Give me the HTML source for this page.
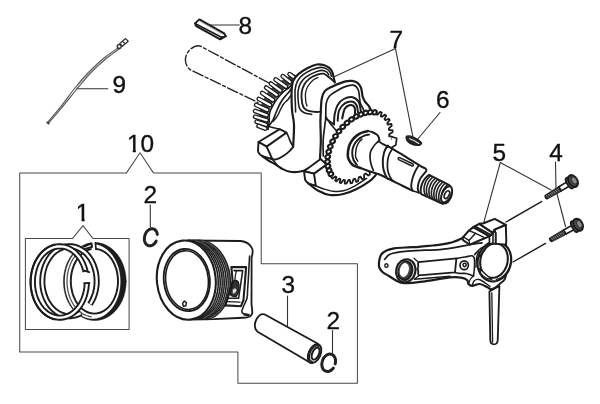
<!DOCTYPE html>
<html><head><meta charset="utf-8"><title>Crankshaft / Piston parts diagram</title>
<style>
html,body{margin:0;padding:0;background:#fff;}
body{width:600px;height:404px;overflow:hidden;}
svg{display:block;}
text{font-family:"Liberation Sans",sans-serif;fill:#111;stroke:#111;stroke-width:0.35px;}
path,ellipse{stroke-linecap:round;stroke-linejoin:round;}
</style></head><body>
<svg style="filter:grayscale(1)" width="600" height="404" viewBox="0 0 600 404">
<rect width="600" height="404" fill="#fff"/>
<text x="238.5" y="34.0" font-size="24.4">8</text>
<text x="389.5" y="47.5" font-size="24.4">7</text>
<text x="435.9" y="108.3" font-size="24.4">6</text>
<text x="492.5" y="161.3" font-size="24.4">5</text>
<text x="549.3" y="161.3" font-size="24.4">4</text>
<text x="112.6" y="93.3" font-size="24.4">9</text>
<text x="127" y="151.9" font-size="24.4">10</text>
<text x="75.8" y="221.3" font-size="24.4">1</text>
<text x="143.5" y="202.7" font-size="24.4">2</text>
<text x="281.5" y="293.2" font-size="24.4">3</text>
<text x="326.5" y="328.5" font-size="24.4">2</text>
<rect x="76.3" y="218.7" width="5.2" height="3.8" fill="#fff"/>
<rect x="84.65" y="218.7" width="5.2" height="3.8" fill="#fff"/>
<rect x="127.5" y="149.3" width="5.2" height="3.8" fill="#fff"/>
<rect x="135.85" y="149.3" width="5.2" height="3.8" fill="#fff"/>
<path d="M210.0,25.0 L239.4,25.0" fill="none" stroke="#333" stroke-width="1.1" />
<path d="M332.5,77.5 L395.5,48.6 L412.8,136.4" fill="none" stroke="#333" stroke-width="1.1" />
<path d="M440.0,112.5 L417.8,139.0" fill="none" stroke="#333" stroke-width="1.1" />
<path d="M483.6,223.2 L500.3,162.5 L551.0,190.0" fill="none" stroke="#333" stroke-width="1.1" />
<path d="M555.5,162.0 L556.0,190.0 L565.5,226.5" fill="none" stroke="#333" stroke-width="1.1" />
<path d="M76.6,88.7 L107.8,88.7" fill="none" stroke="#333" stroke-width="1.1" />
<path d="M150.3,205.0 L150.3,227.0" fill="none" stroke="#333" stroke-width="1.1" />
<path d="M287.5,296.0 L287.5,326.0" fill="none" stroke="#333" stroke-width="1.1" />
<path d="M332.5,330.5 L332.5,352.5" fill="none" stroke="#333" stroke-width="1.1" />
<path d="M126.3,173.1 L19.7,173.1 L19.7,352.1 L237.9,352.1 L237.9,383.3 L357.4,383.3 L357.4,263.8 L261.2,263.8 L261.2,173.1 L153.6,173.1 L140.0,152.7 L126.3,173.1" fill="none" stroke="#484848" stroke-width="1.01" />
<path d="M72.4,238.6 L25.4,238.6 L25.4,329.4 L129.1,329.4 L129.1,238.6 L93.0,238.6 L83.0,225.6 L72.4,238.6" fill="none" stroke="#484848" stroke-width="1.01" />
<path d="M199.4,19.4 L195.0,23.4 L196.2,26.2 L220.2,39.3 L225.8,36.2 L224.2,33.4Z" fill="#fff" stroke="#1c1c1c" stroke-width="1.95" />
<path d="M195.0,23.4 L221.5,37.2 L225.8,36.2" fill="none" stroke="#1c1c1c" stroke-width="1.69" />
<path d="M221.5,37.2 L220.2,39.3" fill="none" stroke="#1c1c1c" stroke-width="1.56" />
<path d="M199.8,21.2 L223.0,34.5" fill="none" stroke="#777" stroke-width="0.6" />
<path d="M118.6,47.6 C116.2,49.3 109.1,53.8 104.0,58.0 C98.9,62.2 92.8,68.0 88.0,73.0 C83.2,78.0 79.3,82.7 75.0,88.0 C70.7,93.3 66.6,99.2 62.0,105.0 C57.4,110.8 49.9,119.6 47.5,122.5" fill="none" stroke="#555" stroke-width="1.17" />
<path d="M119.6,48.8 C117.2,50.6 110.0,55.3 105.0,59.5 C100.0,63.7 94.2,69.0 89.5,74.0 C84.8,79.0 80.9,84.2 76.5,89.5 C72.1,94.8 67.7,100.4 63.0,106.0 C58.3,111.6 50.8,120.4 48.3,123.3" fill="none" stroke="#555" stroke-width="1.17" />
<path d="M112.0,54.0 C109.7,56.0 102.7,61.6 98.0,66.0 C93.3,70.4 87.7,76.5 84.0,80.5 C80.3,84.5 77.3,88.4 76.0,90.0" fill="none" stroke="#777" stroke-width="0.91" />
<path d="M47.2,122.3 L48.6,123.6" fill="none" stroke="#333" stroke-width="1.69" />
<path d="M119.8,43.4 L125.6,38.6 L128.2,41.2 L122.4,46.2Z" fill="#fff" stroke="#333" stroke-width="1.3" />
<ellipse cx="119.2" cy="46.4" rx="1.9" ry="1.9" transform="rotate(0 119.2 46.4)" fill="#fff" stroke="#333" stroke-width="1.43" />
<path d="M123.0,41.8 L124.6,43.4" fill="none" stroke="#333" stroke-width="1.3" />
<path d="M269,83 L201,46.4 C197,44.6 191.5,47 187.6,52.5 C184,58.5 185,65.5 190,69.6 L258,102.5" fill="none" stroke="#222" stroke-width="1.37" stroke-dasharray="11 2.6 3 2.6"/>
<path d="M264.8,314.5 L318,343.8 L310.8,363 L257.6,331.8 C254.2,329 254,323.5 256.6,319 C258.8,315.4 262,313.4 264.8,314.5Z" fill="#fff" stroke="#1c1c1c" stroke-width="1.82" />
<ellipse cx="314.6" cy="353.6" rx="5.9" ry="9.9" transform="rotate(24 314.6 353.6)" fill="#fff" stroke="#1c1c1c" stroke-width="1.95" />
<ellipse cx="315.6" cy="353.6" rx="3.3" ry="6.4" transform="rotate(24 315.6 353.6)" fill="#fff" stroke="#1c1c1c" stroke-width="1.95" />
<path d="M312.2,361.5 L311.8,361.4 L311.5,361.3 L311.2,361.2 L310.9,361.0 L310.7,360.8 L310.4,360.5 L310.2,360.2 L310.0,359.9 L309.8,359.5 L309.7,359.1 L309.6,358.7 L309.5,358.3 L309.4,357.8 L309.4,357.3 L309.4,356.8 L309.4,356.3 L309.5,355.7 L309.5,355.1 L309.7,354.6 L309.8,354.0 L310.0,353.4 L310.1,352.9 L310.4,352.3 L310.6,351.7 L310.9,351.2 L311.1,350.6 L311.4,350.1 L311.8,349.6 L312.1,349.1 L312.4,348.7 L312.8,348.2 L313.2,347.8 L313.5,347.4 L313.9,347.1 L314.3,346.8 L314.7,346.5 L315.1,346.3 L315.5,346.1 L315.9,345.9 L316.3,345.8 L316.6,345.7 L317.0,345.7 L317.4,345.7 L317.7,345.8 L318.0,345.9 L318.3,346.0 L318.6,346.2 L318.9,346.4" fill="none" stroke="#1c1c1c" stroke-width="1.43" />
<path d="M156.2,241.0 C156.0,241.3 155.6,242.2 155.2,242.7 C154.8,243.2 154.4,243.6 154.0,244.0 C153.5,244.4 153.1,244.8 152.6,245.1 C152.1,245.3 151.6,245.5 151.1,245.7 C150.6,245.8 150.1,245.9 149.6,245.8 C149.1,245.8 148.6,245.7 148.2,245.6 C147.7,245.4 147.3,245.2 146.9,244.8 C146.5,244.5 146.2,244.2 145.8,243.7 C145.5,243.3 145.3,242.8 145.0,242.3 C144.8,241.8 144.7,241.2 144.5,240.6 C144.4,240.0 144.4,239.3 144.4,238.7 C144.4,238.1 144.5,237.4 144.6,236.7 C144.7,236.1 144.9,235.4 145.1,234.8 C145.3,234.2 145.6,233.6 145.9,233.0 C146.2,232.5 146.6,231.9 147.0,231.4 C147.4,231.0 147.8,230.5 148.3,230.2 C148.7,229.8 149.2,229.5 149.7,229.3 C150.2,229.1 150.7,228.9 151.2,228.8 C151.7,228.7 152.2,228.7 152.7,228.8 C153.1,228.9 153.6,229.0 154.1,229.2 C154.5,229.4 154.9,229.7 155.3,230.1 C155.6,230.4 156.0,230.8 156.3,231.3 C156.5,231.8 156.8,232.3 157.0,232.8 C157.1,233.4 157.3,234.3 157.3,234.6" fill="none" stroke="#222" stroke-width="2.99" />
<path d="M333.4,368.0 C333.2,368.2 332.6,369.1 332.1,369.5 C331.6,369.9 331.1,370.3 330.6,370.6 C330.1,370.9 329.5,371.2 328.9,371.3 C328.4,371.5 327.8,371.5 327.3,371.5 C326.8,371.5 326.2,371.4 325.8,371.2 C325.3,371.0 324.8,370.7 324.4,370.4 C323.9,370.1 323.6,369.6 323.2,369.2 C322.9,368.7 322.6,368.1 322.4,367.6 C322.2,367.0 322.0,366.3 321.9,365.7 C321.9,365.0 321.8,364.3 321.9,363.7 C321.9,363.0 322.0,362.2 322.2,361.6 C322.4,360.9 322.6,360.2 322.9,359.5 C323.2,358.9 323.5,358.3 323.9,357.7 C324.3,357.1 324.8,356.6 325.2,356.2 C325.7,355.7 326.2,355.3 326.7,355.0 C327.3,354.7 327.8,354.5 328.4,354.3 C328.9,354.2 329.5,354.1 330.0,354.1 C330.5,354.1 331.1,354.2 331.6,354.4 C332.1,354.6 332.5,354.8 333.0,355.1 C333.4,355.5 333.8,355.9 334.1,356.4 C334.5,356.8 334.7,357.4 335.0,357.9 C335.2,358.5 335.4,359.2 335.4,359.8 C335.5,360.5 335.6,361.2 335.5,361.8 C335.5,362.5 335.3,363.6 335.2,363.9" fill="none" stroke="#222" stroke-width="2.99" />
<path d="M406.3,136.4 C409,134.6 418.5,138.6 421.6,142.8 C421.2,146.2 414.5,146 410.2,143.4 C407,141.4 405.6,138.6 406.3,136.4Z" fill="#262626" stroke="#1c1c1c" stroke-width="1.3" />
<path d="M409.6,138.8 C412.5,139.8 416,141.4 418.8,143.4" fill="none" stroke="#e8e8e8" stroke-width="1.17" />
<path d="M545.1,195.7 L545.5,197.6 L546.9,198.8 L561.3,190.9 L558.8,186.8Z" fill="#3a3a3a" stroke="#1c1c1c" stroke-width="1.56" />
<path d="M546.3,195.1 L548.8,197.6" fill="none" stroke="#aaa" stroke-width="0.6" />
<path d="M548.0,194.1 L550.5,196.6" fill="none" stroke="#aaa" stroke-width="0.6" />
<path d="M549.8,193.0 L552.2,195.5" fill="none" stroke="#aaa" stroke-width="0.6" />
<path d="M551.5,192.0 L553.9,194.5" fill="none" stroke="#aaa" stroke-width="0.6" />
<path d="M553.2,191.0 L555.6,193.5" fill="none" stroke="#aaa" stroke-width="0.6" />
<path d="M554.9,189.9 L557.3,192.4" fill="none" stroke="#aaa" stroke-width="0.6" />
<path d="M556.6,188.9 L559.0,191.4" fill="none" stroke="#aaa" stroke-width="0.6" />
<path d="M558.3,187.9 L560.8,190.4" fill="none" stroke="#aaa" stroke-width="0.6" />
<path d="M558.8,186.8 L567.4,181.6 L569.9,185.7 L561.3,190.9Z" fill="#fff" stroke="#1c1c1c" stroke-width="1.69" />
<ellipse cx="569.4712598032839" cy="183.13007590056316" rx="2.3" ry="6.0" transform="rotate(-31.116708062802957 569.4712598032839 183.13007590056316)" fill="#fff" stroke="#1c1c1c" stroke-width="1.95" />
<ellipse cx="572.8957254894674" cy="181.06294388635789" rx="4.4" ry="6.4" transform="rotate(-31.116708062802957 572.8957254894674 181.06294388635789)" fill="#484848" stroke="#1c1c1c" stroke-width="2.08" />
<ellipse cx="574.2832567224965" cy="180.45899266534008" rx="2.3" ry="3.8" transform="rotate(-31.116708062802957 574.2832567224965 180.45899266534008)" fill="#8a8a8a" stroke="#333" stroke-width="1.04" />
<path d="M549.7,238.3 L550.0,240.2 L551.4,241.5 L566.0,234.1 L563.7,229.9Z" fill="#3a3a3a" stroke="#1c1c1c" stroke-width="1.56" />
<path d="M550.9,237.7 L553.3,240.3" fill="none" stroke="#aaa" stroke-width="0.6" />
<path d="M552.7,236.8 L555.0,239.4" fill="none" stroke="#aaa" stroke-width="0.6" />
<path d="M554.4,235.8 L556.8,238.4" fill="none" stroke="#aaa" stroke-width="0.6" />
<path d="M556.2,234.8 L558.5,237.4" fill="none" stroke="#aaa" stroke-width="0.6" />
<path d="M557.9,233.9 L560.3,236.5" fill="none" stroke="#aaa" stroke-width="0.6" />
<path d="M559.7,232.9 L562.0,235.5" fill="none" stroke="#aaa" stroke-width="0.6" />
<path d="M561.4,231.9 L563.8,234.5" fill="none" stroke="#aaa" stroke-width="0.6" />
<path d="M563.2,231.0 L565.5,233.6" fill="none" stroke="#aaa" stroke-width="0.6" />
<path d="M563.7,229.9 L572.5,225.1 L574.8,229.3 L566.0,234.1Z" fill="#fff" stroke="#1c1c1c" stroke-width="1.69" />
<ellipse cx="574.5161751527503" cy="226.67383439848263" rx="2.3" ry="6.0" transform="rotate(-28.88658176691071 574.5161751527503 226.67383439848263)" fill="#fff" stroke="#1c1c1c" stroke-width="1.95" />
<ellipse cx="578.0184858888574" cy="224.74152502683728" rx="4.4" ry="6.4" transform="rotate(-28.88658176691071 578.0184858888574 224.74152502683728)" fill="#484848" stroke="#1c1c1c" stroke-width="2.08" />
<ellipse cx="579.4284678834799" cy="224.19202454927563" rx="2.3" ry="3.8" transform="rotate(-28.88658176691071 579.4284678834799 224.19202454927563)" fill="#8a8a8a" stroke="#333" stroke-width="1.04" />
<path d="M541.5,201.6 L506.0,222.0" fill="none" stroke="#1c1c1c" stroke-width="1.43" />
<path d="M545.5,243.4 L513.0,262.0" fill="none" stroke="#1c1c1c" stroke-width="1.43" />
<path d="M126.2,281.5 L125.9,286.6 L125.1,291.6 L123.8,296.4 L122.0,301.0 L119.7,305.2 L117.0,309.1 L113.9,312.4 L110.5,315.3 L106.8,317.5 L102.9,319.2 L98.9,320.2 L94.8,320.5 L90.7,320.2 L86.7,319.2 L82.8,317.5 L79.1,315.3 L75.7,312.4 L72.6,309.1 L69.9,305.2 L67.6,301.0 L65.8,296.4 L64.5,291.6 L63.7,286.6 L63.4,281.5 L63.7,276.4 L64.5,271.4 L65.8,266.6 L67.6,262.0 L69.9,257.8 L72.6,253.9 L75.7,250.6 L79.1,247.7 L82.8,245.5 L86.7,243.8 L90.7,242.8 L94.8,242.5 L98.9,242.8 L102.9,243.8 L106.8,245.5 L110.5,247.7 L113.9,250.6 L117.0,253.9 L119.7,257.8 L122.0,262.0 L123.8,266.6 L125.1,271.4 L125.9,276.4 L126.2,281.5Z" fill="#1c1c1c" stroke="#1c1c1c" stroke-width="0.5" />
<path d="M120.4,281.5 L120.2,286.4 L119.5,291.1 L118.3,295.7 L116.7,300.1 L114.7,304.1 L112.3,307.8 L109.5,311.0 L106.5,313.7 L103.2,315.9 L99.8,317.4 L96.2,318.4 L92.6,318.7 L89.0,318.4 L85.4,317.4 L82.0,315.9 L78.7,313.7 L75.7,311.0 L72.9,307.8 L70.5,304.1 L68.5,300.1 L66.9,295.7 L65.7,291.1 L65.0,286.4 L64.8,281.5 L65.0,276.6 L65.7,271.9 L66.9,267.3 L68.5,262.9 L70.5,258.9 L72.9,255.2 L75.7,252.0 L78.7,249.3 L82.0,247.1 L85.4,245.6 L89.0,244.6 L92.6,244.3 L96.2,244.6 L99.8,245.6 L103.2,247.1 L106.5,249.3 L109.5,252.0 L112.3,255.2 L114.7,258.9 L116.7,262.9 L118.3,267.3 L119.5,271.9 L120.2,276.6 L120.4,281.5Z" fill="#fff" stroke="#fff" stroke-width="0.1" />
<path d="M118.0,281.2 L117.8,285.4 L117.2,289.6 L116.2,293.6 L114.8,297.4 L113.1,300.9 L111.1,304.1 L108.8,306.9 L106.2,309.3 L103.4,311.1 L100.5,312.5 L97.5,313.3 L94.4,313.6 L91.3,313.3 L88.3,312.5 L85.4,311.1 L82.6,309.3 L80.0,306.9 L77.7,304.1 L75.7,300.9 L74.0,297.4 L72.6,293.6 L71.6,289.6 L71.0,285.4 L70.8,281.2 L71.0,277.0 L71.6,272.8 L72.6,268.8 L74.0,265.0 L75.7,261.5 L77.7,258.3 L80.0,255.5 L82.6,253.1 L85.4,251.3 L88.3,249.9 L91.3,249.1 L94.4,248.8 L97.5,249.1 L100.5,249.9 L103.4,251.3 L106.2,253.1 L108.8,255.5 L111.1,258.3 L113.1,261.5 L114.8,265.0 L116.2,268.8 L117.2,272.8 L117.8,277.0 L118.0,281.2Z" fill="none" stroke="#1c1c1c" stroke-width="1.95" />
<path d="M91.3,316.7 L89.6,316.4 L88.0,316.0 L86.4,315.5 L84.9,314.8 L83.3,314.1 L81.8,313.1 L80.4,312.1 L79.0,311.0 L77.6,309.7 L76.4,308.4 L75.1,306.9 L74.0,305.3 L72.9,303.7 L71.9,301.9 L71.0,300.1 L70.2,298.2 L69.5,296.2 L68.8,294.2 L68.3,292.2 L67.8,290.1 L67.5,287.9 L67.2,285.8 L67.1,283.6 L67.0,281.4 L67.1,279.2 L67.2,277.0 L67.5,274.9 L67.8,272.7 L68.3,270.6 L68.8,268.6 L69.5,266.6 L70.2,264.6 L71.0,262.7 L71.9,260.9 L72.9,259.1 L74.0,257.5 L75.1,255.9 L76.4,254.4 L77.6,253.1 L79.0,251.8 L80.4,250.7 L81.8,249.7 L83.3,248.7 L84.9,248.0 L86.4,247.3 L88.0,246.8 L89.6,246.4 L91.3,246.1" fill="none" stroke="#555" stroke-width="1.3" />
<path d="M91.2,240.0 L95.2,240.0 L95.6,250.5 L91.8,250.5Z" fill="#fff" stroke="#fff" stroke-width="0.1" />
<path d="M95.4,242.8 L96.0,249.4" fill="none" stroke="#1c1c1c" stroke-width="1.69" />
<path d="M84.0,246.6 L91.5,243.4 L92.0,247.0 L86.0,248.8" fill="#fff" stroke="#1c1c1c" stroke-width="1.95" />
<path d="M81.0,312.9 L77.9,314.5 L74.7,315.6 L71.4,316.1 L68.1,316.2 L64.8,315.7 L61.5,314.7 L58.4,313.2 L55.5,311.2 L52.8,308.8 L50.3,305.9 L48.1,302.7 L46.2,299.2 L44.7,295.4 L43.5,291.4 L42.7,287.3 L42.3,283.0 L42.4,278.8 L42.8,274.5 L43.6,270.4 L44.8,266.4 L46.4,262.7 L48.4,259.2 L50.6,256.0 L53.1,253.2 L55.9,250.9 L58.9,249.0 L62.0,247.6 L65.2,246.6 L68.6,246.2 L71.9,246.3 L75.2,247.0 L78.4,248.1 L81.4,249.7 L84.3,251.8 L87.0,254.4 L89.4,257.3 L91.5,260.6 L93.3,264.2 L94.7,268.1 L95.8,272.1 L96.4,276.3 L96.7,280.6 L96.6,284.9 L96.0,289.1 L95.1,293.2 L93.7,297.1 L92.0,300.8 L90.0,304.2" fill="none" stroke="#1c1c1c" stroke-width="6.11" style="stroke-linecap:butt"/>
<path d="M80.6,313.1 L77.6,314.6 L74.3,315.6 L71.1,316.1 L67.8,316.1 L64.5,315.6 L61.3,314.6 L58.2,313.0 L55.3,311.0 L52.6,308.6 L50.1,305.7 L47.9,302.5 L46.1,299.0 L44.6,295.2 L43.4,291.2 L42.7,287.1 L42.3,282.9 L42.4,278.6 L42.8,274.4 L43.7,270.3 L44.9,266.3 L46.5,262.6 L48.4,259.1 L50.6,256.0 L53.1,253.2 L55.9,250.9 L58.8,249.0 L62.0,247.6 L65.2,246.6 L68.5,246.2 L71.8,246.3 L75.0,246.9 L78.2,248.1 L81.3,249.7 L84.2,251.7 L86.9,254.2 L89.3,257.2 L91.4,260.4 L93.2,264.0 L94.6,267.8 L95.7,271.8 L96.4,276.0 L96.7,280.2 L96.6,284.5 L96.1,288.7 L95.2,292.8 L93.9,296.7 L92.3,300.4 L90.3,303.8" fill="none" stroke="#fff" stroke-width="2.34" style="stroke-linecap:butt"/>
<path d="M86.8,283.2 L86.5,287.6 L85.7,292.0 L84.6,296.1 L83.1,300.1 L81.2,303.7 L79.0,307.1 L76.5,310.0 L73.8,312.5 L70.8,314.6 L67.7,316.1 L64.4,317.2 L61.1,317.7 L57.8,317.6 L54.4,317.0 L51.2,315.8 L48.1,314.2 L45.2,312.0 L42.5,309.4 L40.1,306.4 L37.9,302.9 L36.1,299.2 L34.7,295.2 L33.7,291.0 L33.0,286.7 L32.8,282.2 L33.0,277.8 L33.6,273.5 L34.6,269.3 L36.0,265.2 L37.7,261.5 L39.8,258.0 L42.2,254.9 L44.9,252.3 L47.8,250.0 L50.9,248.3 L54.1,247.1 L57.4,246.4 L60.7,246.3 L64.1,246.7 L67.3,247.7 L70.5,249.2 L73.5,251.2 L76.2,253.7 L78.8,256.6 L81.0,259.9 L82.9,263.5 L84.4,267.4 L85.6,271.6" fill="none" stroke="#1c1c1c" stroke-width="6.11" style="stroke-linecap:butt"/>
<path d="M86.8,283.7 L86.4,288.1 L85.6,292.4 L84.5,296.5 L82.9,300.4 L81.0,304.1 L78.8,307.3 L76.3,310.2 L73.6,312.7 L70.6,314.7 L67.5,316.2 L64.2,317.2 L60.9,317.7 L57.6,317.6 L54.3,316.9 L51.1,315.8 L48.0,314.1 L45.1,311.9 L42.4,309.3 L40.0,306.3 L37.9,302.9 L36.1,299.2 L34.7,295.2 L33.7,291.0 L33.0,286.7 L32.8,282.3 L33.0,277.9 L33.6,273.5 L34.6,269.3 L35.9,265.3 L37.7,261.6 L39.7,258.1 L42.1,255.0 L44.8,252.4 L47.6,250.1 L50.7,248.4 L53.9,247.2 L57.2,246.5 L60.5,246.3 L63.8,246.7 L67.1,247.6 L70.2,249.1 L73.2,251.0 L76.0,253.4 L78.5,256.3 L80.8,259.5 L82.7,263.1 L84.3,267.0 L85.5,271.1" fill="none" stroke="#fff" stroke-width="2.34" style="stroke-linecap:butt"/>
<path d="M54.7,319.4 L53.0,319.0 L51.4,318.4 L49.8,317.7 L48.2,316.9 L46.7,316.0 L45.2,314.9 L43.7,313.7 L42.3,312.5 L41.0,311.1 L39.7,309.6 L38.5,308.1 L37.4,306.4 L36.3,304.7 L35.3,302.9 L34.4,301.0 L33.6,299.1 L32.9,297.1 L32.3,295.0 L31.7,292.9 L31.3,290.8 L30.9,288.6 L30.7,286.4 L30.5,284.2 L30.5,282.0 L30.5,279.8 L30.7,277.6 L30.9,275.4 L31.3,273.2 L31.7,271.1 L32.3,269.0 L32.9,266.9 L33.6,264.9 L34.4,263.0 L35.3,261.1 L36.3,259.3 L37.4,257.6 L38.5,255.9 L39.7,254.4 L41.0,252.9 L42.3,251.5 L43.7,250.3 L45.1,249.1 L46.7,248.0 L48.2,247.1 L49.8,246.3 L51.4,245.6 L53.0,245.0 L54.7,244.6" fill="none" stroke="#1c1c1c" stroke-width="1.95" />
<path d="M84.2,270.6 L89.2,272.2" fill="none" stroke="#1c1c1c" stroke-width="1.82" />
<path d="M84.2,283.2 L89.4,283.0" fill="none" stroke="#1c1c1c" stroke-width="1.82" />
<path d="M188,240.5 L240.8,241 C246,241.6 250,244.5 251.6,247.5 C253.6,250 252.6,254 251.6,257.5 L251.5,303.5 C251.6,307 252.6,310.5 252.2,313.5 C251.4,316 249,317.2 246,317.5 L238,318 L214,319.2 L190,319.7" fill="#fff" stroke="#1c1c1c" stroke-width="1.82" />
<path d="M198.6,240.5 L200.4,240.6 L202.3,240.8 L204.1,241.1 L206.0,241.7 L207.8,242.3 L209.5,243.1 L211.3,244.1 L213.0,245.2 L214.6,246.4 L216.2,247.8 L217.8,249.3 L219.3,250.9 L220.7,252.7 L222.0,254.5 L223.2,256.4 L224.4,258.5 L225.4,260.6 L226.4,262.8 L227.2,265.0 L228.0,267.3 L228.7,269.7 L229.2,272.1 L229.6,274.6 L229.9,277.0 L230.1,279.5 L230.2,282.0 L230.2,284.4 L230.1,286.9 L229.8,289.3 L229.4,291.7 L228.9,294.1 L228.3,296.3 L227.6,298.6 L226.8,300.7 L225.9,302.8 L224.9,304.8 L223.8,306.7 L222.6,308.5 L221.3,310.1 L220.0,311.7 L218.5,313.1 L217.0,314.4 L215.5,315.6 L213.8,316.6 L212.2,317.5 L210.4,318.2 L208.7,318.8 L206.9,319.3" fill="#fff" stroke="#222" stroke-width="1.95" />
<path d="M196.6,240.5 L198.4,240.6 L200.3,240.8 L202.1,241.1 L204.0,241.7 L205.8,242.3 L207.5,243.1 L209.3,244.1 L211.0,245.2 L212.6,246.4 L214.2,247.8 L215.8,249.3 L217.3,250.9 L218.7,252.7 L220.0,254.5 L221.2,256.4 L222.4,258.5 L223.4,260.6 L224.4,262.8 L225.2,265.0 L226.0,267.3 L226.7,269.7 L227.2,272.1 L227.6,274.6 L227.9,277.0 L228.1,279.5 L228.2,282.0 L228.2,284.4 L228.1,286.9 L227.8,289.3 L227.4,291.7 L226.9,294.1 L226.3,296.3 L225.6,298.6 L224.8,300.7 L223.9,302.8 L222.9,304.8 L221.8,306.7 L220.6,308.5 L219.3,310.1 L218.0,311.7 L216.5,313.1 L215.0,314.4 L213.5,315.6 L211.8,316.6 L210.2,317.5 L208.4,318.2 L206.7,318.8 L204.9,319.3" fill="none" stroke="#222" stroke-width="1.62" />
<path d="M194.6,240.5 L196.4,240.6 L198.3,240.8 L200.1,241.1 L202.0,241.7 L203.8,242.3 L205.5,243.1 L207.3,244.1 L209.0,245.2 L210.6,246.4 L212.2,247.8 L213.8,249.3 L215.3,250.9 L216.7,252.7 L218.0,254.5 L219.2,256.4 L220.4,258.5 L221.4,260.6 L222.4,262.8 L223.2,265.0 L224.0,267.3 L224.7,269.7 L225.2,272.1 L225.6,274.6 L225.9,277.0 L226.1,279.5 L226.2,282.0 L226.2,284.4 L226.1,286.9 L225.8,289.3 L225.4,291.7 L224.9,294.1 L224.3,296.3 L223.6,298.6 L222.8,300.7 L221.9,302.8 L220.9,304.8 L219.8,306.7 L218.6,308.5 L217.3,310.1 L216.0,311.7 L214.5,313.1 L213.0,314.4 L211.5,315.6 L209.8,316.6 L208.2,317.5 L206.4,318.2 L204.7,318.8 L202.9,319.3" fill="none" stroke="#222" stroke-width="1.62" />
<path d="M192.6,240.5 L194.4,240.6 L196.3,240.8 L198.1,241.1 L200.0,241.7 L201.8,242.3 L203.5,243.1 L205.3,244.1 L207.0,245.2 L208.6,246.4 L210.2,247.8 L211.8,249.3 L213.3,250.9 L214.7,252.7 L216.0,254.5 L217.2,256.4 L218.4,258.5 L219.4,260.6 L220.4,262.8 L221.2,265.0 L222.0,267.3 L222.7,269.7 L223.2,272.1 L223.6,274.6 L223.9,277.0 L224.1,279.5 L224.2,282.0 L224.2,284.4 L224.1,286.9 L223.8,289.3 L223.4,291.7 L222.9,294.1 L222.3,296.3 L221.6,298.6 L220.8,300.7 L219.9,302.8 L218.9,304.8 L217.8,306.7 L216.6,308.5 L215.3,310.1 L214.0,311.7 L212.5,313.1 L211.0,314.4 L209.5,315.6 L207.8,316.6 L206.2,317.5 L204.4,318.2 L202.7,318.8 L200.9,319.3" fill="none" stroke="#222" stroke-width="1.62" />
<path d="M190.6,240.5 L192.4,240.6 L194.3,240.8 L196.1,241.1 L198.0,241.7 L199.8,242.3 L201.5,243.1 L203.3,244.1 L205.0,245.2 L206.6,246.4 L208.2,247.8 L209.8,249.3 L211.3,250.9 L212.7,252.7 L214.0,254.5 L215.2,256.4 L216.4,258.5 L217.4,260.6 L218.4,262.8 L219.2,265.0 L220.0,267.3 L220.7,269.7 L221.2,272.1 L221.6,274.6 L221.9,277.0 L222.1,279.5 L222.2,282.0 L222.2,284.4 L222.1,286.9 L221.8,289.3 L221.4,291.7 L220.9,294.1 L220.3,296.3 L219.6,298.6 L218.8,300.7 L217.9,302.8 L216.9,304.8 L215.8,306.7 L214.6,308.5 L213.3,310.1 L212.0,311.7 L210.5,313.1 L209.0,314.4 L207.5,315.6 L205.8,316.6 L204.2,317.5 L202.4,318.2 L200.7,318.8 L198.9,319.3" fill="none" stroke="#222" stroke-width="1.62" />
<path d="M188.6,240.5 L190.4,240.6 L192.3,240.8 L194.1,241.1 L196.0,241.7 L197.8,242.3 L199.5,243.1 L201.3,244.1 L203.0,245.2 L204.6,246.4 L206.2,247.8 L207.8,249.3 L209.3,250.9 L210.7,252.7 L212.0,254.5 L213.2,256.4 L214.4,258.5 L215.4,260.6 L216.4,262.8 L217.2,265.0 L218.0,267.3 L218.7,269.7 L219.2,272.1 L219.6,274.6 L219.9,277.0 L220.1,279.5 L220.2,282.0 L220.2,284.4 L220.1,286.9 L219.8,289.3 L219.4,291.7 L218.9,294.1 L218.3,296.3 L217.6,298.6 L216.8,300.7 L215.9,302.8 L214.9,304.8 L213.8,306.7 L212.6,308.5 L211.3,310.1 L210.0,311.7 L208.5,313.1 L207.0,314.4 L205.5,315.6 L203.8,316.6 L202.2,317.5 L200.4,318.2 L198.7,318.8 L196.9,319.3" fill="none" stroke="#222" stroke-width="1.62" />
<path d="M186.6,240.5 L188.4,240.6 L190.3,240.8 L192.1,241.1 L194.0,241.7 L195.8,242.3 L197.5,243.1 L199.3,244.1 L201.0,245.2 L202.6,246.4 L204.2,247.8 L205.8,249.3 L207.3,250.9 L208.7,252.7 L210.0,254.5 L211.2,256.4 L212.4,258.5 L213.4,260.6 L214.4,262.8 L215.2,265.0 L216.0,267.3 L216.7,269.7 L217.2,272.1 L217.6,274.6 L217.9,277.0 L218.1,279.5 L218.2,282.0 L218.2,284.4 L218.1,286.9 L217.8,289.3 L217.4,291.7 L216.9,294.1 L216.3,296.3 L215.6,298.6 L214.8,300.7 L213.9,302.8 L212.9,304.8 L211.8,306.7 L210.6,308.5 L209.3,310.1 L208.0,311.7 L206.5,313.1 L205.0,314.4 L203.5,315.6 L201.8,316.6 L200.2,317.5 L198.4,318.2 L196.7,318.8 L194.9,319.3" fill="none" stroke="#222" stroke-width="1.62" />
<path d="M201.7,240.8 L203.4,241.2 L205.0,241.7 L206.7,242.3 L208.3,243.0 L209.9,243.9 L211.4,244.8 L213.0,245.9 L214.4,247.1 L215.9,248.4 L217.2,249.8 L218.6,251.3 L219.8,252.9 L221.0,254.5 L222.1,256.3 L223.2,258.1 L224.2,260.0 L225.1,262.0 L225.9,264.0 L226.6,266.1 L227.3,268.2 L227.8,270.4 L228.3,272.6 L228.7,274.8 L228.9,277.0 L229.1,279.3 L229.2,281.5 L229.2,283.8 L229.1,286.0 L228.9,288.2 L228.6,290.4 L228.3,292.5 L227.8,294.6 L227.2,296.7 L226.6,298.7 L225.9,300.7 L225.0,302.6 L224.1,304.4 L223.2,306.1 L222.1,307.8 L221.0,309.3 L219.8,310.8 L218.5,312.2 L217.2,313.4 L215.8,314.6 L214.4,315.6 L212.9,316.6 L211.4,317.4 L209.8,318.1" fill="none" stroke="#555" stroke-width="1.17" />
<path d="M195.7,240.8 L197.4,241.2 L199.0,241.7 L200.7,242.3 L202.3,243.0 L203.9,243.9 L205.4,244.8 L207.0,245.9 L208.4,247.1 L209.9,248.4 L211.2,249.8 L212.6,251.3 L213.8,252.9 L215.0,254.5 L216.1,256.3 L217.2,258.1 L218.2,260.0 L219.1,262.0 L219.9,264.0 L220.6,266.1 L221.3,268.2 L221.8,270.4 L222.3,272.6 L222.7,274.8 L222.9,277.0 L223.1,279.3 L223.2,281.5 L223.2,283.8 L223.1,286.0 L222.9,288.2 L222.6,290.4 L222.3,292.5 L221.8,294.6 L221.2,296.7 L220.6,298.7 L219.9,300.7 L219.0,302.6 L218.1,304.4 L217.2,306.1 L216.1,307.8 L215.0,309.3 L213.8,310.8 L212.5,312.2 L211.2,313.4 L209.8,314.6 L208.4,315.6 L206.9,316.6 L205.4,317.4 L203.8,318.1" fill="none" stroke="#555" stroke-width="1.17" />
<ellipse cx="186.3" cy="280.1" rx="29.4" ry="39.7" transform="rotate(-6 186.3 280.1)" fill="#fff" stroke="#1c1c1c" stroke-width="2.08" />
<ellipse cx="186.8" cy="280.0" rx="23.0" ry="31.2" transform="rotate(-6 186.8 280.0)" fill="none" stroke="#1c1c1c" stroke-width="1.82" />
<ellipse cx="187.0" cy="280.1" rx="21.3" ry="29.4" transform="rotate(-6 187.0 280.1)" fill="none" stroke="#1c1c1c" stroke-width="1.56" />
<path d="M182.6,303.4 L184.4,301.0 L186.4,302.8 L185.8,305.8 L183.4,306.2Z" fill="none" stroke="#1c1c1c" stroke-width="1.43" />
<path d="M225.4,305.4 L232.6,281.0 L231.4,267.1 L246.1,267.1 L243.5,300.0 L241.0,306.2 L225.4,305.4" fill="none" stroke="#1c1c1c" stroke-width="2.08" />
<path d="M234.0,270.6 L242.7,270.6 L238.6,298.3 L228.8,298.3" fill="none" stroke="#1c1c1c" stroke-width="1.56" />
<path d="M227.5,301.6 L240.0,302.2" fill="none" stroke="#1c1c1c" stroke-width="1.3" />
<path d="M236.4,270.8 C235,276 234.6,280 235.4,283" fill="none" stroke="#1c1c1c" stroke-width="1.3" />
<path d="M233.2,281.4 C235.6,279.4 238.6,280.6 238.8,284.6 C239.2,289.4 238,294 236,296.4 C233,297 230.4,295.4 230,293 C231.6,289 232.6,285.4 233.2,281.4Z" fill="#333" stroke="#1c1c1c" stroke-width="1.56" />
<path d="M232.4,290.5 C233.6,288 235.6,287.6 236.6,289.6 C236.8,292 235,294 233,293.6Z" fill="#ddd" stroke="#555" stroke-width="0.6" />
<path d="M249.6,256.0 C249.4,258.7 249.0,266.6 248.7,272.3 C248.4,278.0 247.9,285.7 247.6,290.0 C247.3,294.3 247.7,295.5 247.0,298.3 C246.3,301.1 244.3,304.4 243.4,306.6 C242.5,308.8 241.7,310.4 241.8,311.6 C241.9,312.8 243.0,313.5 244.0,314.0 C245.0,314.5 247.2,314.6 247.9,314.7" fill="none" stroke="#1c1c1c" stroke-width="1.56" />
<path d="M244.6,314.6 L248.6,314.8" fill="none" stroke="#1c1c1c" stroke-width="2.34" />
<path d="M489.4,291.5 L490.3,340.5 C490.8,345.5 497,345.8 497.7,340.5 L499.4,286 Z" fill="#fff" stroke="#1c1c1c" stroke-width="1.82" />
<path d="M491.8,293.0 L492.6,342.0" fill="none" stroke="#1c1c1c" stroke-width="1.3" />
<path d="M379.0,262.0 C379.3,259.8 379.7,256.5 381.0,254.5 C382.3,252.5 384.0,251.1 387.0,250.0 C390.0,248.9 392.7,248.6 399.0,247.8 C405.3,247.0 418.2,245.5 425.0,245.0 C431.8,244.5 435.4,245.2 440.0,244.7 C444.6,244.2 448.9,243.1 452.4,242.2 C455.9,241.3 458.7,240.3 461.0,239.1 C463.3,237.9 464.4,236.5 466.0,234.8 C467.6,233.2 469.3,230.8 470.9,229.2 C472.5,227.6 473.7,226.4 475.8,225.5 C477.9,224.6 480.2,224.7 483.3,223.7 C486.4,222.7 491.5,219.5 494.4,219.3 C497.3,219.1 498.8,221.1 500.6,222.4 C502.4,223.8 503.8,223.6 505.0,227.4 C506.2,231.2 507.2,237.9 508.0,245.0 C508.8,252.1 511.4,263.5 510.0,270.0 C508.6,276.5 501.8,281.2 499.4,284.0 C497.0,286.8 497.1,286.1 495.7,287.0 C494.3,287.9 492.2,289.6 490.8,289.6 C489.4,289.6 488.9,287.9 487.0,287.0 C485.1,286.1 482.2,284.2 479.7,284.0 C477.2,283.8 474.1,285.8 472.2,285.8 C470.3,285.8 469.3,284.9 468.5,284.0 C467.7,283.1 468.3,281.3 467.3,280.3 C466.3,279.3 465.3,278.4 462.4,277.8 C459.5,277.2 456.2,276.0 450.0,276.6 C443.8,277.2 432.7,280.2 425.0,281.3 C417.3,282.4 408.7,283.2 404.0,283.2 C399.3,283.1 399.5,282.2 397.0,281.0 C394.5,279.8 391.3,277.4 389.0,276.0 C386.7,274.6 384.6,273.9 383.0,272.5 C381.4,271.1 380.0,269.2 379.3,267.5 C378.6,265.8 378.7,264.2 379.0,262.0Z" fill="#fff" stroke="#fff" stroke-width="0.1" />
<path d="M379.0,262.0 C379.3,260.8 379.8,256.7 381.0,254.8 C382.2,252.9 384.3,251.7 386.5,250.6 C388.7,249.5 390.9,248.9 394.0,248.4 C397.1,247.9 401.3,247.8 405.4,247.5 C409.5,247.2 414.4,247.1 418.8,246.8 C423.2,246.5 428.1,245.9 432.0,245.5 C435.9,245.1 438.6,244.9 442.0,244.3 C445.4,243.8 449.2,243.1 452.4,242.2 C455.6,241.3 458.7,240.0 461.0,238.8 C463.3,237.6 464.4,236.4 466.0,234.8 C467.6,233.2 469.3,230.7 470.9,229.2 C472.5,227.7 474.8,226.4 475.6,225.8" fill="none" stroke="#1c1c1c" stroke-width="2.21" />
<path d="M379.0,262.0 C379.1,262.9 378.6,265.8 379.3,267.5 C380.0,269.2 381.4,271.1 383.0,272.5 C384.6,273.9 386.7,274.6 389.0,276.0 C391.3,277.4 394.5,279.8 397.0,281.0 C399.5,282.2 399.3,283.1 404.0,283.2 C408.7,283.2 417.3,282.3 425.0,281.3 C432.7,280.3 443.8,278.0 450.0,277.4 C456.2,276.8 459.5,277.3 462.4,277.8 C465.3,278.3 466.3,279.3 467.3,280.3 C468.3,281.3 467.7,283.1 468.5,284.0 C469.3,284.9 470.3,285.8 472.2,285.8 C474.1,285.8 477.2,283.8 479.7,284.0 C482.2,284.2 485.1,286.1 487.0,287.0 C488.9,287.9 490.2,289.2 490.8,289.6" fill="none" stroke="#1c1c1c" stroke-width="2.21" />
<path d="M384.6,259.4 C385.6,258.5 387.1,255.3 390.5,254.0 C393.9,252.7 399.2,252.0 405.0,251.4 C410.8,250.8 419.2,250.5 425.0,250.2 C430.8,249.9 434.4,250.2 440.0,249.6 C445.6,249.0 453.4,247.7 458.5,246.8 C463.6,246.0 467.0,245.2 470.9,244.5 C474.8,243.8 480.1,243.1 482.0,242.8" fill="none" stroke="#1c1c1c" stroke-width="1.69" />
<ellipse cx="405.8" cy="270.8" rx="9.6" ry="11.6" transform="rotate(14 405.8 270.8)" fill="#fff" stroke="#1c1c1c" stroke-width="2.21" />
<ellipse cx="405.4" cy="270.8" rx="6.9" ry="9.3" transform="rotate(14 405.4 270.8)" fill="#3a3a3a" stroke="#1c1c1c" stroke-width="2.08" />
<ellipse cx="404.3" cy="270.0" rx="5.0" ry="7.6" transform="rotate(14 404.3 270.0)" fill="#fff" stroke="#444" stroke-width="1.04" />
<ellipse cx="386.4" cy="265.6" rx="1.6" ry="1.8" transform="rotate(0 386.4 265.6)" fill="none" stroke="#1c1c1c" stroke-width="1.43" />
<path d="M418.5,262.2 L456.4,258.4 L455,272.4 L418.8,275.4 C417,273 419.5,271 417.6,268.8 C419.5,266 417,264.5 418.5,262.2Z" fill="none" stroke="#1c1c1c" stroke-width="1.82" />
<path d="M414.5,279.2 L450.0,276.2" fill="none" stroke="#1c1c1c" stroke-width="1.43" />
<path d="M414.0,258.2 L418.5,262.2" fill="none" stroke="#1c1c1c" stroke-width="1.3" />
<path d="M414.5,279.2 L418.8,275.4" fill="none" stroke="#1c1c1c" stroke-width="1.3" />
<path d="M456.4,258.4 C457.8,258.2 462.4,257.4 465.0,257.0 C467.6,256.6 470.5,255.5 472.1,255.8 C473.7,256.1 474.0,256.9 474.4,259.0 C474.8,261.1 474.5,265.7 474.4,268.5 C474.2,271.3 473.6,274.8 473.5,276.0" fill="none" stroke="#1c1c1c" stroke-width="1.56" />
<path d="M455.0,272.4 C455.8,272.6 458.2,273.2 460.0,273.4 C461.8,273.6 463.8,273.1 466.0,273.5 C468.2,273.9 472.2,275.6 473.5,276.0" fill="none" stroke="#1c1c1c" stroke-width="1.56" />
<ellipse cx="464.2" cy="265.3" rx="4.2" ry="4.4" transform="rotate(0 464.2 265.3)" fill="none" stroke="#1c1c1c" stroke-width="1.69" />
<ellipse cx="464.6" cy="264.9" rx="1.6" ry="1.7" transform="rotate(0 464.6 264.9)" fill="none" stroke="#1c1c1c" stroke-width="1.56" />
<path d="M510.5,265.4 L509.7,267.9 L508.7,270.4 L507.4,272.6 L505.9,274.7 L504.2,276.5 L502.3,278.1 L500.3,279.4 L498.2,280.4 L496.0,281.0 L493.8,281.4 L491.7,281.4 L489.5,281.0 L487.5,280.3 L485.5,279.3 L483.7,278.0 L482.1,276.4 L480.7,274.5 L479.6,272.4 L478.6,270.1 L478.0,267.7 L477.6,265.2 L477.6,262.6 L477.8,260.0 L478.3,257.4 L479.1,254.9 L480.1,252.4 L481.4,250.2 L482.9,248.1 L484.6,246.3 L486.5,244.7 L488.5,243.4 L490.6,242.4 L492.8,241.8 L495.0,241.4 L497.1,241.4 L499.3,241.8 L501.3,242.5 L503.3,243.5 L505.1,244.8 L506.7,246.4 L508.1,248.3 L509.2,250.4 L510.2,252.7 L510.8,255.1 L511.2,257.6 L511.2,260.2 L511.0,262.8 L510.5,265.4Z" fill="#fff" stroke="#1c1c1c" stroke-width="2.08" />
<path d="M507.2,263.9 L506.5,266.1 L505.7,268.1 L504.6,270.1 L503.3,271.9 L501.9,273.5 L500.4,274.9 L498.7,276.0 L497.0,276.9 L495.2,277.5 L493.3,277.8 L491.5,277.8 L489.8,277.5 L488.1,276.9 L486.5,276.1 L485.1,274.9 L483.8,273.6 L482.6,272.0 L481.7,270.2 L481.0,268.3 L480.5,266.2 L480.2,264.0 L480.2,261.8 L480.4,259.5 L480.8,257.3 L481.5,255.1 L482.3,253.1 L483.4,251.1 L484.7,249.3 L486.1,247.7 L487.6,246.3 L489.3,245.2 L491.0,244.3 L492.8,243.7 L494.7,243.4 L496.5,243.4 L498.2,243.7 L499.9,244.3 L501.5,245.1 L502.9,246.3 L504.2,247.6 L505.4,249.2 L506.3,251.0 L507.0,252.9 L507.5,255.0 L507.8,257.2 L507.8,259.4 L507.6,261.7 L507.2,263.9Z" fill="none" stroke="#1c1c1c" stroke-width="2.08" />
<path d="M498.9,242.5 L499.7,242.7 L500.6,242.9 L501.5,243.2 L502.3,243.5 L503.1,243.9 L503.9,244.4 L504.7,244.9 L505.4,245.5 L506.1,246.2 L506.7,246.9 L507.3,247.6 L507.9,248.4 L508.4,249.3 L508.9,250.2 L509.3,251.1 L509.7,252.1 L510.0,253.0 L510.3,254.1 L510.5,255.1 L510.7,256.2 L510.8,257.3 L510.8,258.4 L510.8,259.5 L510.8,260.6 L510.7,261.7 L510.5,262.8 L510.3,263.9 L510.1,265.0 L509.7,266.1 L509.4,267.2 L508.9,268.2 L508.5,269.2 L508.0,270.2 L507.4,271.2 L506.8,272.1 L506.2,273.0 L505.5,273.8 L504.8,274.6 L504.0,275.3 L503.3,276.0 L502.5,276.6 L501.6,277.2 L500.8,277.7 L499.9,278.2 L499.0,278.6 L498.1,278.9 L497.2,279.2 L496.3,279.4" fill="none" stroke="#1c1c1c" stroke-width="1.3" />
<path d="M479.6,268.5 C483,272 487,276 492,279.2 C488,279.6 483,277 480.6,273 Z" fill="#fff" stroke="#1c1c1c" stroke-width="1.3" />
<path d="M474.6,254.6 C475.6,253.6 478.5,250.1 480.8,248.4 C483.1,246.8 487.0,245.3 488.2,244.7" fill="none" stroke="#1c1c1c" stroke-width="1.56" />
<path d="M476.6,259.5 C477.3,258.8 479.4,256.6 480.8,255.0 C482.2,253.4 484.3,250.8 485.0,250.0" fill="none" stroke="#1c1c1c" stroke-width="1.3" />
<path d="M476.0,267.3 C476.1,265.6 476.1,260.1 476.6,257.4 C477.1,254.7 478.6,252.1 479.0,251.0" fill="none" stroke="#1c1c1c" stroke-width="1.3" />
<path d="M506.2,274.7 C505.9,275.5 505.5,278.1 504.4,279.7 C503.3,281.3 500.8,282.9 499.4,284.2 C497.9,285.4 497.1,286.3 495.7,287.2 C494.3,288.1 491.6,289.2 490.8,289.6" fill="none" stroke="#1c1c1c" stroke-width="1.95" />
<path d="M472.2,285.8 C472.5,285.0 472.9,282.1 474.0,281.0 C475.1,279.9 477.0,279.1 479.0,279.5 C481.0,279.9 484.2,282.3 486.0,283.5 C487.8,284.7 489.3,286.0 490.0,286.5" fill="none" stroke="#1c1c1c" stroke-width="1.43" />
<path d="M468.5,284.0 C468.8,283.2 469.7,280.3 470.5,279.0 C471.3,277.7 473.0,276.5 473.5,276.0" fill="none" stroke="#1c1c1c" stroke-width="1.3" />
<path d="M494.3,229.6 L505.8,224.8 L506.3,240.4 L506.0,244.6 L495.6,243.6 L495.6,233.0Z" fill="#fff" stroke="#1c1c1c" stroke-width="1.95" />
<path d="M489.4,236.3 L493.0,233.1 L494.3,229.6 L495.6,233.0 L495.6,243.6 L489.4,243.4Z" fill="#fff" stroke="#1c1c1c" stroke-width="1.69" />
<path d="M493.0,233.1 L493.0,243.4" fill="none" stroke="#1c1c1c" stroke-width="1.56" />
<path d="M479.1,223.8 L483.6,223.2 L494.7,218.9 L505.8,224.8 L494.3,229.6 L493.0,233.1Z" fill="#fff" stroke="#1c1c1c" stroke-width="2.08" />
<path d="M473.4,227.4 L479.1,223.8 L493.0,233.1 L489.4,236.3Z" fill="#fff" stroke="#1c1c1c" stroke-width="2.08" />
<path d="M475.4,226.6 L491.2,235.0" fill="none" stroke="#1c1c1c" stroke-width="1.82" />
<path d="M473.4,227.4 L468.9,230.5 L463.6,236.6 C462.4,238 462.4,239.4 463.4,240.4 L469.8,244.7 L480.5,240 L489.4,236.3 Z" fill="#fff" stroke="#1c1c1c" stroke-width="1.95" />
<path d="M468.9,230.5 L475.6,233.3 L484.0,237.4" fill="none" stroke="#1c1c1c" stroke-width="1.43" />
<path d="M475.6,233.3 L468.9,240.4 L463.6,237.0" fill="none" stroke="#1c1c1c" stroke-width="1.43" />
<path d="M468.9,240.4 L469.8,244.7" fill="none" stroke="#1c1c1c" stroke-width="1.3" />
<path d="M296.0,76.0 C295.8,77.3 292.3,81.5 290.0,84.0 C287.7,86.5 284.5,88.5 282.0,91.0 C279.5,93.5 277.0,96.3 275.0,99.0 C273.0,101.7 271.2,104.3 270.0,107.0 C268.8,109.7 268.3,112.3 268.0,115.0 C267.7,117.7 268.0,120.7 268.0,123.0 C268.0,125.3 268.7,128.2 268.0,129.0 C267.3,129.8 265.2,128.7 264.0,127.5 C262.8,126.3 261.2,124.2 260.5,122.0 C259.8,119.8 259.4,116.7 259.5,114.0 C259.6,111.3 260.2,108.7 261.0,106.0 C261.8,103.3 263.2,100.5 264.5,98.0 C265.8,95.5 267.2,93.2 269.0,91.0 C270.8,88.8 273.2,86.8 275.5,85.0 C277.8,83.2 280.4,81.5 283.0,80.0 C285.6,78.5 288.8,76.7 291.0,76.0 C293.2,75.3 296.2,74.7 296.0,76.0Z" fill="#444" stroke="#1c1c1c" stroke-width="0.5" />
<path d="M294.0,77.3 L289.6,74.2" fill="none" stroke="#1c1c1c" stroke-width="4.81" />
<path d="M294.0,77.3 L289.6,74.2" fill="none" stroke="#fff" stroke-width="2.21" />
<path d="M290.0,82.0 L282.7,76.2" fill="none" stroke="#1c1c1c" stroke-width="4.81" />
<path d="M290.0,82.0 L282.7,76.2" fill="none" stroke="#fff" stroke-width="2.21" />
<path d="M286.0,86.7 L275.6,79.5" fill="none" stroke="#1c1c1c" stroke-width="4.81" />
<path d="M286.0,86.7 L275.6,79.5" fill="none" stroke="#fff" stroke-width="2.21" />
<path d="M280.4,90.7 L270.9,83.6" fill="none" stroke="#1c1c1c" stroke-width="4.81" />
<path d="M280.4,90.7 L270.9,83.6" fill="none" stroke="#fff" stroke-width="2.21" />
<path d="M276.7,94.9 L266.2,87.6" fill="none" stroke="#1c1c1c" stroke-width="4.81" />
<path d="M276.7,94.9 L266.2,87.6" fill="none" stroke="#fff" stroke-width="2.21" />
<path d="M272.9,100.0 L262.2,93.0" fill="none" stroke="#1c1c1c" stroke-width="4.81" />
<path d="M272.9,100.0 L262.2,93.0" fill="none" stroke="#fff" stroke-width="2.21" />
<path d="M270.0,104.9 L258.9,99.0" fill="none" stroke="#1c1c1c" stroke-width="4.81" />
<path d="M270.0,104.9 L258.9,99.0" fill="none" stroke="#fff" stroke-width="2.21" />
<path d="M267.2,110.0 L256.2,104.9" fill="none" stroke="#1c1c1c" stroke-width="4.81" />
<path d="M267.2,110.0 L256.2,104.9" fill="none" stroke="#fff" stroke-width="2.21" />
<path d="M266.6,115.2 L255.2,111.0" fill="none" stroke="#1c1c1c" stroke-width="4.81" />
<path d="M266.6,115.2 L255.2,111.0" fill="none" stroke="#fff" stroke-width="2.21" />
<path d="M266.6,120.2 L255.2,116.7" fill="none" stroke="#1c1c1c" stroke-width="4.81" />
<path d="M266.6,120.2 L255.2,116.7" fill="none" stroke="#fff" stroke-width="2.21" />
<path d="M265.8,124.8 L256.7,121.7" fill="none" stroke="#1c1c1c" stroke-width="4.81" />
<path d="M265.8,124.8 L256.7,121.7" fill="none" stroke="#fff" stroke-width="2.21" />
<path d="M265.2,128.5 L258.6,126.0" fill="none" stroke="#1c1c1c" stroke-width="4.81" />
<path d="M265.2,128.5 L258.6,126.0" fill="none" stroke="#fff" stroke-width="2.21" />
<path d="M297.0,77.0 C296.2,78.2 293.4,82.2 292.0,84.0 C290.6,85.8 290.0,86.7 288.5,88.0 C287.0,89.3 284.6,90.6 283.0,92.0 C281.4,93.4 280.3,94.9 279.0,96.5 C277.7,98.1 276.3,99.8 275.2,101.5 C274.1,103.2 273.3,104.8 272.4,106.5 C271.5,108.2 270.5,109.8 270.0,111.5 C269.5,113.2 269.3,114.8 269.2,116.5 C269.1,118.2 269.3,119.9 269.2,121.5 C269.1,123.1 268.6,124.7 268.4,126.0 C268.2,127.3 268.1,128.9 268.0,129.5" fill="none" stroke="#1c1c1c" stroke-width="1.69" />
<path d="M297.0,77.0 C296.3,78.5 294.3,83.5 293.0,86.0 C291.7,88.5 290.4,90.2 289.0,92.0 C287.6,93.8 285.8,95.3 284.5,97.0 C283.2,98.7 282.1,100.2 281.0,102.0 C279.9,103.8 278.9,106.0 278.0,108.0 C277.1,110.0 276.2,112.2 275.5,114.0 C274.8,115.8 274.2,117.5 273.5,119.0 C272.8,120.5 271.8,121.8 271.0,123.0 C270.2,124.2 268.9,125.9 268.5,126.5" fill="none" stroke="#1c1c1c" stroke-width="1.69" />
<path d="M292.0,94.0 C291.3,94.9 289.3,97.9 288.0,99.5 C286.7,101.1 285.2,102.0 284.0,103.5 C282.8,105.0 281.9,106.8 281.0,108.5 C280.1,110.2 279.3,112.4 278.5,114.0 C277.7,115.6 276.9,116.8 276.0,118.0 C275.1,119.2 273.5,120.9 273.0,121.5" fill="none" stroke="#1c1c1c" stroke-width="1.43" />
<path d="M268.5,126.4 L279.7,129.2" fill="none" stroke="#1c1c1c" stroke-width="1.56" />
<path d="M293.2,146.5 C294.0,144.0 294.2,131.1 294.0,125.0 C293.8,118.9 292.6,114.7 292.2,110.0 C291.8,105.3 291.6,101.2 291.7,96.7 C291.8,92.2 291.7,86.8 292.5,83.3 C293.3,79.8 294.6,78.0 296.7,75.8 C298.8,73.6 301.7,71.8 305.0,70.0 C308.3,68.2 313.5,65.7 316.7,65.0 C319.9,64.3 321.8,64.8 324.0,65.6 C326.2,66.4 328.4,68.2 330.0,70.0 C331.6,71.8 332.6,74.7 333.3,76.7 C334.0,78.7 333.8,78.1 334.2,82.0 C334.6,85.9 336.7,88.7 336.0,100.0 C335.3,111.3 332.3,140.0 330.0,150.0 C327.7,160.0 325.6,156.9 322.0,160.0 C318.4,163.1 311.4,166.5 308.3,168.3 C305.2,170.1 305.8,170.2 303.3,170.8 C300.8,171.4 296.6,172.1 293.3,172.0 C290.0,171.9 286.4,171.2 283.3,170.0 C280.2,168.8 277.6,166.7 275.0,165.0 C272.4,163.3 270.1,161.5 268.0,160.0 C265.9,158.5 264.1,157.8 262.4,156.2 C260.7,154.6 258.6,152.9 258.0,150.5 C257.4,148.1 254.9,145.6 258.5,142.0 C262.1,138.4 275.0,130.8 279.7,129.2 C284.4,127.6 284.9,130.8 286.5,132.6 C288.1,134.4 287.9,137.7 289.0,140.0 C290.1,142.3 292.4,149.0 293.2,146.5Z" fill="#fff" stroke="#fff" stroke-width="0.1" />
<path d="M293.2,146.5 C293.3,142.9 294.2,130.8 294.0,125.0 C293.8,119.2 292.6,115.7 292.2,112.0 C291.8,108.3 291.8,106.7 291.7,103.0 C291.6,99.3 291.4,93.4 291.7,89.7 C291.9,86.0 292.1,83.4 293.2,80.8 C294.3,78.2 296.0,76.2 298.4,74.1 C300.8,72.0 304.2,69.8 307.3,68.2 C310.4,66.6 314.0,65.0 316.9,64.5 C319.8,64.0 322.3,64.6 324.4,65.2 C326.5,65.8 328.2,67.0 329.6,68.2 C331.0,69.4 331.8,71.0 332.5,72.6 C333.2,74.2 333.3,76.2 333.7,77.8 C334.1,79.4 334.6,81.5 334.8,82.3" fill="none" stroke="#1c1c1c" stroke-width="2.21" />
<path d="M295.6,112.0 C295.6,110.8 295.5,108.3 295.4,104.6 C295.3,100.9 294.7,93.7 295.1,89.7 C295.5,85.7 296.3,83.3 297.6,80.8 C298.9,78.3 300.5,76.8 302.8,74.9 C305.1,73.1 308.7,71.0 311.7,69.7 C314.7,68.5 318.1,67.5 320.6,67.4 C323.1,67.3 325.0,68.0 326.6,68.9 C328.2,69.8 329.5,71.4 330.3,72.6 C331.1,73.8 331.1,75.7 331.3,76.3" fill="none" stroke="#1c1c1c" stroke-width="1.56" />
<path d="M311.7,114.4 C310.5,114.1 306.3,113.6 304.3,112.7 C302.3,111.8 300.9,110.6 299.9,109.0 C298.9,107.4 298.7,106.0 298.4,103.0 C298.1,100.0 297.7,94.5 298.1,91.2 C298.5,87.9 299.3,85.3 300.6,83.0 C301.9,80.7 303.6,78.8 305.8,77.1 C308.0,75.4 311.4,73.7 314.0,72.6 C316.6,71.5 319.3,70.5 321.4,70.4 C323.5,70.3 325.4,71.2 326.6,71.9 C327.8,72.7 328.4,74.4 328.8,74.9" fill="none" stroke="#1c1c1c" stroke-width="1.56" />
<path d="M321.4,111.4 C320.6,111.5 318.9,112.0 316.9,112.0 C314.9,112.0 311.6,111.8 309.5,111.2 C307.4,110.6 305.5,109.7 304.3,108.3 C303.1,106.9 302.6,105.6 302.1,103.0 C301.7,100.4 301.2,95.8 301.6,92.7 C302.0,89.6 303.0,86.8 304.3,84.5 C305.6,82.2 307.4,80.2 309.5,78.6 C311.6,77.0 314.5,75.7 316.9,74.9 C319.2,74.1 321.5,73.2 323.6,73.7 C325.7,74.2 327.7,76.4 329.6,77.8 C331.5,79.2 333.9,81.5 334.8,82.3" fill="none" stroke="#1c1c1c" stroke-width="1.82" />
<path d="M307.0,106.0 C306.8,105.3 306.1,103.7 305.8,101.6 C305.6,99.5 305.1,96.0 305.5,93.4 C305.9,90.8 306.7,88.2 308.0,86.0 C309.3,83.8 311.5,81.4 313.2,80.0 C314.9,78.6 317.2,77.9 318.0,77.5" fill="none" stroke="#1c1c1c" stroke-width="1.3" />
<path d="M258.5,142.0 L279.7,129.2 L286.5,132.6 L266.6,146.6Z" fill="#fff" stroke="#1c1c1c" stroke-width="1.95" />
<path d="M258.5,142 L266.6,146.6 L272.5,159.3 L262.4,156.2 C259.8,154.6 258,152.6 258,150.5 Z" fill="#fff" stroke="#1c1c1c" stroke-width="1.95" />
<path d="M286.5,132.6 C286.9,133.3 287.9,135.4 288.6,137.0 C289.3,138.6 289.8,140.4 290.6,142.0 C291.4,143.6 292.8,146.0 293.2,146.8" fill="none" stroke="#1c1c1c" stroke-width="1.69" />
<path d="M272.5,159.3 C273.2,159.3 275.1,159.8 277.0,159.2 C278.9,158.6 281.9,156.9 284.0,155.5 C286.1,154.1 288.3,152.2 289.8,150.8 C291.3,149.4 292.6,147.5 293.2,146.8" fill="none" stroke="#1c1c1c" stroke-width="1.82" />
<path d="M262.4,156.2 C263.4,156.9 266.2,159.2 268.5,160.6 C270.8,162.0 273.5,163.3 276.0,164.8 C278.5,166.3 281.0,168.2 283.3,169.4 C285.6,170.6 287.7,171.4 290.0,171.8 C292.3,172.2 294.7,172.2 297.0,172.0 C299.3,171.8 301.8,171.3 303.7,170.7 C305.6,170.1 307.5,168.7 308.3,168.3" fill="none" stroke="#1c1c1c" stroke-width="2.08" />
<path d="M272.5,159.3 L277.6,165.8" fill="none" stroke="#1c1c1c" stroke-width="1.56" />
<path d="M320.0,158.5 C322.8,153.6 320.7,147.8 320.8,141.7 C320.9,135.6 320.4,126.9 320.4,122.0 C320.4,117.1 320.6,116.3 320.8,112.5 C321.0,108.7 321.0,102.6 321.7,99.0 C322.4,95.4 323.2,93.0 325.0,90.9 C326.8,88.8 329.2,88.0 332.5,86.4 C335.8,84.9 341.2,82.5 344.5,81.6 C347.8,80.7 349.9,80.7 352.0,80.9 C354.1,81.1 355.7,81.6 357.2,82.7 C358.7,83.8 360.1,85.5 361.0,87.7 C361.9,89.9 361.9,93.8 362.5,96.0 C363.1,98.2 363.7,99.6 364.7,101.2 C365.7,102.8 367.5,104.3 368.5,105.7 C369.5,107.1 369.1,106.6 370.7,109.8 C372.3,113.0 377.1,114.6 378.0,125.0 C378.9,135.4 379.6,161.3 376.0,172.0 C372.4,182.7 362.1,185.3 356.7,189.0 C351.2,192.7 347.8,193.0 343.3,194.0 C338.9,195.0 334.2,195.5 330.0,195.0 C325.8,194.5 321.9,192.8 318.3,190.8 C314.7,188.9 310.5,185.3 308.3,183.3 C306.1,181.3 305.7,181.0 305.0,179.0 C304.3,177.0 301.5,174.6 304.0,171.2 C306.5,167.8 317.2,163.4 320.0,158.5Z" fill="#fff" stroke="#fff" stroke-width="0.1" />
<path d="M320.0,158.5 C320.1,155.7 320.7,147.8 320.8,141.7 C320.9,135.6 320.4,126.9 320.4,122.0 C320.4,117.1 320.6,116.3 320.8,112.5 C321.0,108.7 321.0,102.6 321.7,99.0 C322.4,95.4 323.2,93.0 325.0,90.9 C326.8,88.8 329.2,88.0 332.5,86.4 C335.8,84.9 341.2,82.5 344.5,81.6 C347.8,80.7 349.9,80.7 352.0,80.9 C354.1,81.1 355.7,81.6 357.2,82.7 C358.7,83.8 360.1,85.5 361.0,87.7 C361.9,89.9 361.9,93.8 362.5,96.0 C363.1,98.2 363.7,99.6 364.7,101.2 C365.7,102.8 367.5,104.3 368.5,105.7 C369.5,107.1 370.3,109.1 370.7,109.8" fill="none" stroke="#1c1c1c" stroke-width="2.21" />
<path d="M323.3,156.0 C323.3,153.3 322.9,145.3 323.2,140.0 C323.5,134.7 324.6,127.6 325.0,124.0 C325.4,120.4 325.5,121.9 325.7,118.5 C325.9,115.1 325.6,107.2 326.2,103.5 C326.8,99.8 327.7,98.1 329.5,96.0 C331.3,93.9 334.2,92.3 337.0,90.7 C339.8,89.1 343.1,87.3 346.0,86.4 C348.9,85.5 352.1,84.8 354.2,85.4 C356.2,86.0 357.4,88.0 358.3,90.0 C359.2,92.0 359.2,95.4 359.5,97.5 C359.8,99.6 359.8,101.2 360.2,102.7 C360.6,104.2 361.4,105.4 362.0,106.6 C362.6,107.8 363.4,109.4 363.7,110.0" fill="none" stroke="#1c1c1c" stroke-width="1.69" />
<path d="M334.0,124.5 C334.1,122.8 334.1,117.2 334.7,114.0 C335.3,110.8 336.2,107.5 337.7,105.0 C339.2,102.5 341.2,100.3 343.7,99.0 C346.2,97.7 350.2,96.7 352.7,97.2 C355.2,97.7 357.3,99.6 358.7,102.0 C360.1,104.4 360.6,110.1 361.0,111.7" fill="none" stroke="#1c1c1c" stroke-width="1.95" />
<path d="M337.7,120.7 C337.9,119.0 337.9,113.1 339.2,110.2 C340.4,107.3 342.9,104.6 345.2,103.2 C347.4,101.8 350.8,101.3 352.7,101.7 C354.6,102.1 355.9,103.9 356.8,105.7 C357.7,107.5 357.8,111.4 358.0,112.5" fill="none" stroke="#1c1c1c" stroke-width="1.95" />
<path d="M342.2,118.5 C342.6,116.9 343.4,111.0 344.8,108.7 C346.2,106.5 348.9,105.2 350.5,105.0 C352.1,104.8 353.9,106.2 354.7,107.7 C355.4,109.2 354.9,113.2 355.0,114.3" fill="none" stroke="#1c1c1c" stroke-width="2.08" />
<path d="M325.7,118.5 L334.0,124.5" fill="none" stroke="#1c1c1c" stroke-width="1.56" />
<path d="M325.8,116.7 C326.5,117.8 328.3,121.1 330.0,123.3 C331.7,125.5 334.8,128.9 335.8,130.0" fill="none" stroke="#1c1c1c" stroke-width="1.56" />
<path d="M304.0,171.2 L320.6,159.0 L326.5,164.6 L314.0,173.6Z" fill="#fff" stroke="#1c1c1c" stroke-width="1.95" />
<path d="M304,171.2 L314,173.6 L315.8,185.8 L308.3,183.3 C306,181.5 305,180 305,179 Z" fill="#fff" stroke="#1c1c1c" stroke-width="1.95" />
<path d="M308.3,183.3 C310.0,184.6 314.7,188.9 318.3,190.8 C321.9,192.8 325.8,194.5 330.0,195.0 C334.2,195.5 338.9,195.0 343.3,194.0 C347.8,193.0 352.2,191.2 356.7,189.0 C361.1,186.8 366.8,183.1 370.0,180.8 C373.2,178.5 374.8,176.0 375.8,175.0" fill="none" stroke="#1c1c1c" stroke-width="2.21" />
<path d="M315.8,185.8 C317.1,186.3 320.4,187.9 323.3,188.8 C326.2,189.7 330.0,191.0 333.3,191.3 C336.6,191.6 339.7,191.7 343.3,190.8 C346.9,189.9 351.1,187.9 355.0,185.8 C358.9,183.7 364.8,179.6 366.7,178.3" fill="none" stroke="#1c1c1c" stroke-width="1.43" />
<path d="M383.8,116.0 L385.8,117.8 L387.4,119.9 L388.8,122.4 L389.8,125.1 L390.5,128.1 L390.9,131.2 L390.9,134.6 L390.6,138.0 L389.9,141.6 L388.9,145.2 L387.5,148.9 L385.9,152.5 L383.9,156.1 L381.7,159.6 L379.3,162.9 L376.6,166.1 L373.7,169.0 L370.7,171.7 L367.5,174.2 L364.3,176.3 L361.0,178.1 L357.7,179.6 L354.4,180.7 L351.1,181.5 L347.9,181.8 L344.9,181.8 L342.0,181.4 L339.3,180.7 L336.8,179.5 L334.6,178.0 L332.6,176.2 L331.0,174.1 L329.6,171.6 L328.6,168.9 L327.9,165.9 L327.5,162.8 L327.5,159.4 L327.8,156.0 L328.5,152.4 L329.5,148.8 L330.9,145.1 L332.5,141.5 L334.5,137.9 L336.7,134.4 L339.1,131.1 L341.8,127.9 L344.7,125.0 L347.7,122.3 L350.9,119.8 L354.1,117.7 L357.4,115.9 L360.7,114.4 L364.0,113.3 L367.3,112.5 L370.5,112.2 L373.5,112.2 L376.4,112.6 L379.1,113.3 L381.6,114.5Z" fill="#fff" stroke="#fff" stroke-width="0.1" />
<path d="M392.1,139.1 L392.4,136.9 L389.1,136.2 L389.3,134.3 L392.6,132.1 L392.5,130.1 L389.1,130.1 L388.9,128.4 L391.8,125.7 L391.3,123.9 L387.9,124.7 L387.3,123.3 L389.6,120.1 L388.7,118.7 L385.5,120.2 L384.5,119.1 L386.2,115.7 L385.0,114.6 L382.0,116.8 L380.7,116.1 L381.8,112.5 L380.2,111.9 L377.6,114.7 L376.1,114.3" fill="none" stroke="#1c1c1c" stroke-width="1.82" />
<path d="M331.4,177.5 L332.4,178.6 L335.4,176.4 L336.5,177.2 L335.2,180.6 L336.4,181.4 L339.1,178.7 L340.4,179.2 L339.7,182.7 L341.2,183.1 L343.4,179.9 L344.9,180.1 L344.8,183.6 L346.5,183.6 L348.3,180.1 L349.8,180.0 L350.5,183.3 L352.2,182.9 L353.5,179.2 L355.1,178.8 L356.3,181.8 L358.1,181.2 L358.8,177.3 L360.4,176.6 L362.3,179.2 L364.1,178.3 L364.2,174.4 L365.8,173.4 L368.2,175.6 L369.9,174.4 L369.4,170.7 L370.9,169.4" fill="none" stroke="#1c1c1c" stroke-width="1.82" />
<ellipse cx="374.5" cy="112.3" rx="2.4" ry="2.0" transform="rotate(-30 374.5 112.3)" fill="#fff" stroke="#1c1c1c" stroke-width="2.08" />
<ellipse cx="370.2" cy="112.2" rx="2.4" ry="2.0" transform="rotate(-30 370.2 112.2)" fill="#fff" stroke="#1c1c1c" stroke-width="2.08" />
<ellipse cx="365.6" cy="112.9" rx="2.4" ry="2.0" transform="rotate(-30 365.6 112.9)" fill="#fff" stroke="#1c1c1c" stroke-width="2.08" />
<ellipse cx="360.9" cy="114.4" rx="2.4" ry="2.0" transform="rotate(-30 360.9 114.4)" fill="#fff" stroke="#1c1c1c" stroke-width="2.08" />
<ellipse cx="356.2" cy="116.5" rx="2.4" ry="2.0" transform="rotate(-30 356.2 116.5)" fill="#fff" stroke="#1c1c1c" stroke-width="2.08" />
<ellipse cx="351.5" cy="119.4" rx="2.4" ry="2.0" transform="rotate(-30 351.5 119.4)" fill="#fff" stroke="#1c1c1c" stroke-width="2.08" />
<ellipse cx="347.0" cy="122.9" rx="2.4" ry="2.0" transform="rotate(-30 347.0 122.9)" fill="#fff" stroke="#1c1c1c" stroke-width="2.08" />
<ellipse cx="342.7" cy="126.9" rx="2.4" ry="2.0" transform="rotate(-30 342.7 126.9)" fill="#fff" stroke="#1c1c1c" stroke-width="2.08" />
<ellipse cx="338.9" cy="131.4" rx="2.4" ry="2.0" transform="rotate(-30 338.9 131.4)" fill="#fff" stroke="#1c1c1c" stroke-width="2.08" />
<ellipse cx="335.5" cy="136.2" rx="2.4" ry="2.0" transform="rotate(-30 335.5 136.2)" fill="#fff" stroke="#1c1c1c" stroke-width="2.08" />
<ellipse cx="332.6" cy="141.3" rx="2.4" ry="2.0" transform="rotate(-30 332.6 141.3)" fill="#fff" stroke="#1c1c1c" stroke-width="2.08" />
<ellipse cx="330.3" cy="146.5" rx="2.4" ry="2.0" transform="rotate(-30 330.3 146.5)" fill="#fff" stroke="#1c1c1c" stroke-width="2.08" />
<ellipse cx="328.7" cy="151.7" rx="2.4" ry="2.0" transform="rotate(-30 328.7 151.7)" fill="#fff" stroke="#1c1c1c" stroke-width="2.08" />
<ellipse cx="327.7" cy="156.8" rx="2.4" ry="2.0" transform="rotate(-30 327.7 156.8)" fill="#fff" stroke="#1c1c1c" stroke-width="2.08" />
<ellipse cx="327.5" cy="161.7" rx="2.4" ry="2.0" transform="rotate(-30 327.5 161.7)" fill="#fff" stroke="#1c1c1c" stroke-width="2.08" />
<ellipse cx="327.9" cy="166.2" rx="2.4" ry="2.0" transform="rotate(-30 327.9 166.2)" fill="#fff" stroke="#1c1c1c" stroke-width="2.08" />
<ellipse cx="329.1" cy="170.4" rx="2.4" ry="2.0" transform="rotate(-30 329.1 170.4)" fill="#fff" stroke="#1c1c1c" stroke-width="2.08" />
<ellipse cx="330.9" cy="174.0" rx="2.4" ry="2.0" transform="rotate(-30 330.9 174.0)" fill="#fff" stroke="#1c1c1c" stroke-width="2.08" />
<path d="M391.7,136.7 L396.7,138.3 L395.8,145.0 L391.7,147.5" fill="#fff" stroke="#1c1c1c" stroke-width="1.69" />
<path d="M347.8,155.6 C347.6,148 352,139.5 356.7,135.6 C361,132 364,131.2 367.8,131.1 L376.7,134.5 L379.5,139 L387.9,145.6 L400.1,153.4 L427,169.6 L414.5,191.6 L382.3,175.7 L360,167.9 C352,166.5 348,162 347.8,155.6Z" fill="#fff" stroke="#fff" stroke-width="0.1" />
<path d="M360.4,168.0 C359.6,167.7 357.0,167.0 355.6,166.4 C354.2,165.8 353.3,165.6 352.2,164.5 C351.1,163.4 349.7,161.5 349.0,160.0 C348.3,158.5 347.8,157.8 347.8,155.6 C347.8,153.4 348.2,149.2 348.9,146.7 C349.6,144.2 350.7,142.3 352.0,140.5 C353.3,138.7 355.0,136.9 356.7,135.6 C358.4,134.3 360.1,133.3 362.0,132.6 C363.9,131.8 366.8,131.3 367.8,131.1" fill="none" stroke="#1c1c1c" stroke-width="2.6" />
<path d="M367.8,131.1 C368.5,131.2 370.5,131.4 372.0,132.0 C373.5,132.6 375.6,133.7 376.7,134.5 C377.8,135.3 378.2,136.0 378.6,137.0 C379.1,138.0 379.3,139.9 379.4,140.5" fill="none" stroke="#1c1c1c" stroke-width="1.95" />
<path d="M357.0,165.0 C356.4,164.2 354.4,161.9 353.6,160.0 C352.8,158.1 352.3,155.5 352.2,153.4 C352.1,151.3 352.4,149.3 353.0,147.5 C353.6,145.7 354.5,143.8 355.6,142.3 C356.7,140.8 358.0,139.5 359.5,138.4 C361.0,137.3 362.9,136.2 364.5,135.6 C366.1,135.0 368.2,134.8 369.0,134.6" fill="none" stroke="#1c1c1c" stroke-width="1.95" />
<path d="M357.8,161.2 C357.5,160.6 356.2,158.8 355.8,157.5 C355.4,156.2 355.5,155.2 355.6,153.4 C355.7,151.7 356.1,148.8 356.6,147.0 C357.2,145.2 358.0,143.6 358.9,142.3 C359.8,141.0 361.5,139.6 362.0,139.0" fill="none" stroke="#1c1c1c" stroke-width="1.43" />
<path d="M379.4,140.5 C378.8,141.0 377.0,142.5 376.0,143.5 C375.0,144.5 374.3,145.4 373.4,146.7 C372.5,147.9 371.4,149.5 370.8,151.0 C370.2,152.5 370.1,153.9 370.0,155.6 C369.9,157.3 370.1,159.3 370.4,161.0 C370.7,162.7 371.1,164.4 371.6,166.0 C372.1,167.6 373.1,169.7 373.4,170.4" fill="none" stroke="#1c1c1c" stroke-width="1.69" />
<path d="M379.2,141.8 C379.9,142.2 382.1,143.6 383.5,144.4 C384.9,145.2 387.2,146.3 387.9,146.7" fill="none" stroke="#1c1c1c" stroke-width="1.82" />
<path d="M387.9,146.2 C389.9,147.4 395.9,150.9 400.1,153.4 C404.3,155.9 409.4,159.2 413.0,161.4 C416.6,163.7 420.5,166.0 422.0,166.9" fill="none" stroke="#1c1c1c" stroke-width="2.08" />
<path d="M360.4,168.0 C362.0,168.6 366.4,170.1 370.0,171.4 C373.6,172.7 378.0,173.8 382.3,175.7 C386.6,177.6 391.2,180.2 396.0,182.6 C400.8,185.0 408.8,188.9 411.3,190.2" fill="none" stroke="#1c1c1c" stroke-width="2.08" />
<path d="M387.9,145.6 C387.4,146.3 385.8,148.3 385.0,150.0 C384.2,151.7 383.8,153.6 383.4,155.6 C383.0,157.6 382.8,159.8 382.8,162.0 C382.8,164.2 383.0,166.9 383.4,169.0 C383.8,171.1 384.4,172.8 385.2,174.5 C385.9,176.2 387.4,178.2 387.9,179.0" fill="none" stroke="#1c1c1c" stroke-width="1.95" />
<path d="M392.3,149.0 C391.8,149.8 390.1,152.3 389.4,154.0 C388.7,155.7 388.2,157.2 387.9,159.0 C387.6,160.8 387.4,163.0 387.4,165.0 C387.4,167.0 387.5,169.2 387.9,171.0 C388.3,172.8 388.9,174.4 389.6,176.0 C390.3,177.6 391.9,179.7 392.3,180.4" fill="none" stroke="#1c1c1c" stroke-width="1.69" />
<path d="M399.6,157.6 L413,164 C414,165 413.2,166.4 412,166 L398.6,159.6 C397.6,158.6 398.4,157.4 399.6,157.6Z" fill="none" stroke="#1c1c1c" stroke-width="1.43" />
<path d="M418.6,165.6 C418.1,166.5 416.3,169.2 415.4,171.0 C414.5,172.8 413.6,174.8 413.0,176.7 C412.4,178.6 411.9,180.7 411.6,182.4 C411.3,184.1 411.1,185.6 411.3,187.0 C411.5,188.4 412.4,190.2 412.6,190.8" fill="none" stroke="#1c1c1c" stroke-width="1.82" />
<path d="M422.0,166.9 C422.6,167.2 424.7,168.0 425.4,168.6 C426.1,169.2 426.6,169.8 426.4,170.6 C426.2,171.4 425.4,172.1 424.4,173.4 C423.4,174.7 421.4,176.5 420.4,178.4 C419.4,180.3 418.6,182.8 418.2,184.6 C417.8,186.4 417.7,187.6 417.8,189.0 C417.9,190.4 418.8,192.2 419.0,192.8" fill="none" stroke="#1c1c1c" stroke-width="1.95" />
<path d="M412.6,190.8 L419.0,192.8" fill="none" stroke="#1c1c1c" stroke-width="1.69" />
<path d="M429.1,174.8 L449.3,185.2 C453.5,188.5 452.8,197 447.6,202.2 C445.5,203.8 443,203.8 441,203 L421.3,194.2 C419.5,189 422,179.5 429.1,174.8Z" fill="#fff" stroke="#1c1c1c" stroke-width="1.95" />
<path d="M430.4,175.6 C429.7,176.4 427.4,178.6 426.4,180.4 C425.4,182.2 424.6,184.7 424.2,186.6 C423.8,188.5 424.0,190.2 424.2,191.6 C424.4,193.0 425.2,194.4 425.4,195.0" fill="none" stroke="#222" stroke-width="1.62" />
<path d="M432.8,176.9 C432.2,177.7 429.9,179.8 428.8,181.7 C427.8,183.5 427.0,186.0 426.6,187.9 C426.3,189.7 426.4,191.5 426.6,192.9 C426.8,194.3 427.6,195.7 427.8,196.3" fill="none" stroke="#222" stroke-width="1.62" />
<path d="M435.3,178.2 C434.6,179.0 432.3,181.1 431.3,183.0 C430.3,184.8 429.5,187.3 429.1,189.2 C428.7,191.0 428.9,192.8 429.1,194.2 C429.3,195.6 430.1,197.0 430.3,197.6" fill="none" stroke="#222" stroke-width="1.62" />
<path d="M437.8,179.4 C437.1,180.2 434.8,182.4 433.8,184.2 C432.7,186.1 431.9,188.6 431.6,190.4 C431.2,192.3 431.4,194.0 431.6,195.4 C431.8,196.8 432.6,198.3 432.8,198.8" fill="none" stroke="#222" stroke-width="1.62" />
<path d="M440.2,180.7 C439.5,181.5 437.2,183.7 436.2,185.5 C435.2,187.4 434.4,189.9 434.0,191.7 C433.6,193.6 433.8,195.3 434.0,196.7 C434.2,198.1 435.0,199.6 435.2,200.1" fill="none" stroke="#222" stroke-width="1.62" />
<path d="M442.6,182.0 C442.0,182.8 439.7,185.0 438.6,186.8 C437.6,188.6 436.8,191.1 436.4,193.0 C436.1,194.9 436.2,196.6 436.4,198.0 C436.6,199.4 437.4,200.8 437.6,201.4" fill="none" stroke="#222" stroke-width="1.62" />
<path d="M445.1,183.3 C444.4,184.1 442.1,186.2 441.1,188.1 C440.1,189.9 439.3,192.4 438.9,194.3 C438.5,196.1 438.7,197.9 438.9,199.3 C439.1,200.7 439.9,202.1 440.1,202.7" fill="none" stroke="#222" stroke-width="1.62" />
<path d="M447.5,184.6 C446.9,185.4 444.6,187.5 443.5,189.4 C442.5,191.2 441.7,193.7 441.3,195.6 C441.0,197.4 441.1,199.2 441.3,200.6 C441.5,202.0 442.3,203.4 442.5,204.0" fill="none" stroke="#222" stroke-width="1.62" />
<ellipse cx="446.6" cy="194.4" rx="4.4" ry="8.6" transform="rotate(27 446.6 194.4)" fill="#fff" stroke="#1c1c1c" stroke-width="1.82" />
<ellipse cx="446.9" cy="194.7" rx="2.2" ry="4.2" transform="rotate(27 446.9 194.7)" fill="#fff" stroke="#1c1c1c" stroke-width="1.69" />
</svg>
</body></html>
